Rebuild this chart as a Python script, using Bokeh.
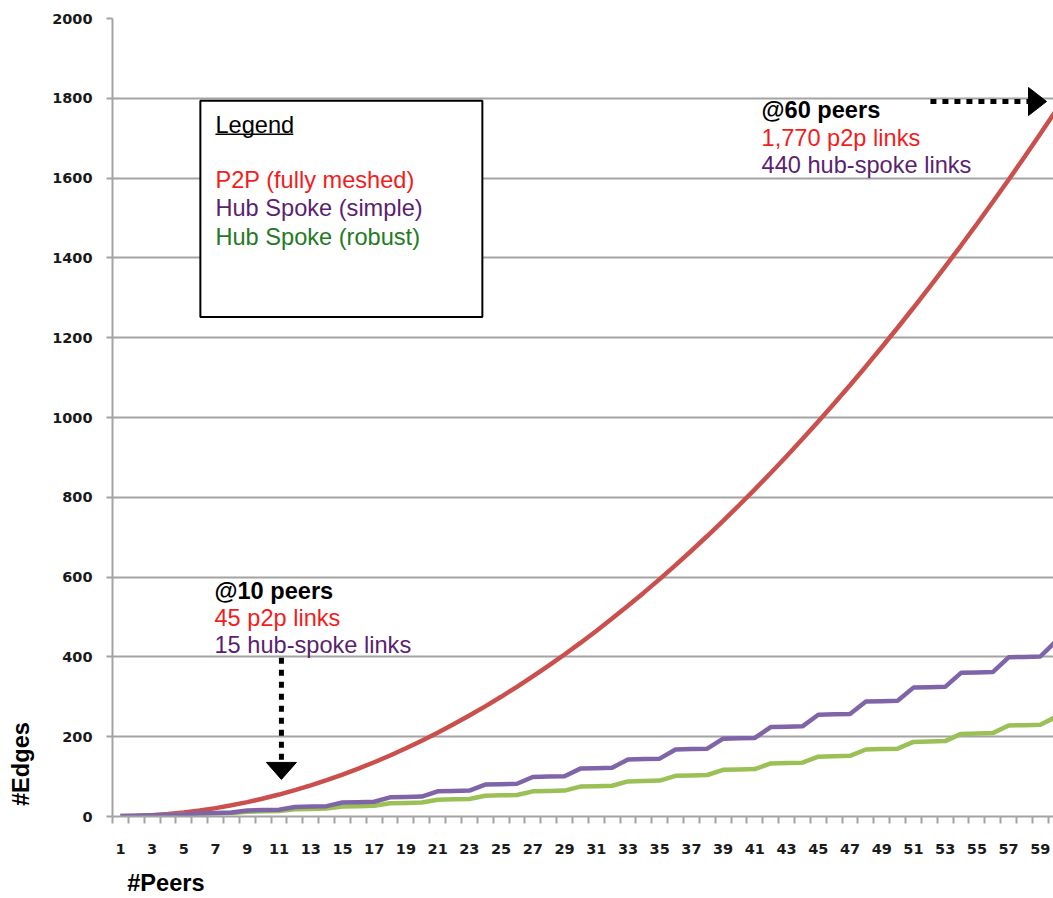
from bokeh.plotting import figure
from bokeh.models import Range1d, FixedTicker, Label, BoxAnnotation, Arrow, ColumnDataSource, LinearAxis
from bokeh.embed import file_html
from bokeh.resources import INLINE

# ---------------- data ----------------
peers = list(range(1, 61))
x_tick_values = list(range(1, 60, 2))
x_tick_labels = [str(v) for v in x_tick_values]
y_tick_values = list(range(0, 2001, 200))

p2p_links = [0, 1, 3, 6, 10, 15, 21, 28, 36, 45, 55, 66, 78, 91, 105, 120, 136, 153, 171, 190,
             210, 231, 253, 276, 300, 325, 351, 378, 406, 435, 465, 496, 528, 561, 595, 630, 666, 703, 741, 780,
             820, 861, 903, 946, 990, 1035, 1081, 1128, 1176, 1225, 1275, 1326, 1378, 1431, 1485, 1540, 1596, 1653, 1711, 1770]
hub_simple = [1, 2, 3, 4, 5, 8, 9, 10, 15, 16, 17, 24, 25, 26, 35, 36, 37, 48, 49, 50,
              63, 64, 65, 80, 81, 82, 99, 100, 101, 120, 121, 122, 143, 144, 145, 168, 169, 170, 195, 196,
              197, 224, 225, 226, 255, 256, 257, 288, 289, 290, 323, 324, 325, 360, 361, 362, 399, 400, 401, 440]
hub_robust = [1, 2, 3, 4, 5, 7, 8, 9, 12, 13, 14, 18, 19, 20, 25, 26, 27, 33, 34, 35,
              42, 43, 44, 52, 53, 54, 63, 64, 65, 75, 76, 77, 88, 89, 90, 102, 103, 104, 117, 118,
              119, 133, 134, 135, 150, 151, 152, 168, 169, 170, 187, 188, 189, 207, 208, 209, 228, 229, 230, 250]

x_title = "#Peers"
y_title = "#Edges"

# ---------------- styles ----------------
RED_LINE = "#c9504c"
PURPLE_LINE = "#8064a8"
GREEN_LINE = "#9bc156"
RED_TXT = "#f21d1d"
PURPLE_TXT = "#5b1f70"
GREEN_TXT = "#237a23"
GRID = "#a3a3a3"
TICK_TXT = "#1a1a1a"
FONT = "Liberation Sans"
TXT_SIZE = "23.6px"

source = ColumnDataSource(dict(peers=peers, p2p=p2p_links, simple=hub_simple, robust=hub_robust))

p = figure(width=1053, height=898, output_backend="svg", toolbar_location=None,
           x_range=Range1d(0.5, 59.83), y_range=Range1d(0, 2000),
           min_border_left=112, min_border_right=0, min_border_top=18, min_border_bottom=81)
p.outline_line_color = None
p.xgrid.visible = False
p.ygrid.grid_line_color = GRID
p.ygrid.grid_line_width = 2
p.ygrid.ticker = FixedTicker(ticks=y_tick_values)

# x axis
p.xaxis.ticker = FixedTicker(ticks=x_tick_values, minor_ticks=[v - 0.5 for v in peers] + [60.5])
p.xaxis.major_label_overrides = {v: l for v, l in zip(x_tick_values, x_tick_labels)}
p.xaxis.major_tick_out = 0
p.xaxis.major_tick_in = 0
p.xaxis.minor_tick_out = 7
p.xaxis.minor_tick_in = 0
p.xaxis.minor_tick_line_color = GRID
p.xaxis.minor_tick_line_width = 2
p.xaxis.axis_line_color = GRID
p.xaxis.axis_line_width = 2
p.xaxis.major_label_standoff = 20

# y axis
p.yaxis.ticker = FixedTicker(ticks=y_tick_values)
p.yaxis.major_tick_out = 6
p.yaxis.major_tick_in = 0
p.yaxis.minor_tick_out = 0
p.yaxis.minor_tick_in = 0
p.yaxis.major_tick_line_color = GRID
p.yaxis.major_tick_line_width = 2
p.yaxis.axis_line_color = GRID
p.yaxis.axis_line_width = 2
p.yaxis.major_label_standoff = 14

for ax in (p.xaxis, p.yaxis):
    ax.major_label_text_font = "DejaVu Sans"
    ax.major_label_text_font_style = "bold"
    ax.major_label_text_font_size = "14.5px"
    ax.major_label_text_color = TICK_TXT


# axis titles: extra tick-less axes carrying a single label at the start of each axis
def title_axis(pos, text, standoff, orientation="horizontal"):
    ax = LinearAxis(ticker=FixedTicker(ticks=[pos], minor_ticks=[]),
                    major_label_overrides={pos: text},
                    major_label_orientation=orientation,
                    major_label_standoff=standoff,
                    axis_line_color=None, major_tick_line_color=None, minor_tick_line_color=None,
                    major_tick_out=0, major_tick_in=0, minor_tick_out=0, minor_tick_in=0,
                    major_label_text_font=FONT, major_label_text_font_size=TXT_SIZE,
                    major_label_text_font_style="bold", major_label_text_color="black")
    return ax


p.add_layout(title_axis(3.87, x_title, 13), "below")
p.add_layout(title_axis(131.4, y_title, 15, "vertical"), "left")

# series
p.line("peers", "p2p", source=source, line_color=RED_LINE, line_width=4.5)
p.line("peers", "robust", source=source, line_color=GREEN_LINE, line_width=4.5)
p.line("peers", "simple", source=source, line_color=PURPLE_LINE, line_width=4.5)

# legend box
p.add_layout(BoxAnnotation(left=6.04, right=23.82, top=1794, bottom=1252,
                           fill_color="white", fill_alpha=1.0,
                           line_color="black", line_alpha=1.0, line_width=2))


def label(x, y, text, color, bold=False):
    p.add_layout(Label(x=x, y=y, text=text, text_color=color, text_font=FONT,
                       text_font_size=TXT_SIZE, text_font_style="bold" if bold else "normal",
                       text_baseline="middle", text_align="left"))


label(6.99, 1732, "Legend", "black")
p.add_layout(Arrow(x_start=6.99, y_start=1710, x_end=11.9, y_end=1710, start=None, end=None,
                   line_color="black", line_width=1.5))
label(6.99, 1595, "P2P (fully meshed)", RED_TXT)
label(6.99, 1524, "Hub Spoke (simple)", PURPLE_TXT)
label(6.99, 1452, "Hub Spoke (robust)", GREEN_TXT)

# @10 peers annotation
label(6.93, 566, "@10 peers", "black", bold=True)
label(6.93, 498, "45 p2p links", RED_TXT)
label(6.93, 431, "15 hub-spoke links", PURPLE_TXT)

# @60 peers annotation
label(41.42, 1770, "@60 peers", "black", bold=True)
label(41.42, 1700, "1,770 p2p links", RED_TXT)
label(41.42, 1632, "440 hub-spoke links", PURPLE_TXT)

# arrows (dotted body + triangular head)
X_PER_PX = 1 / 15.86
Y_PER_PX = 1 / 0.3995
down_x, down_top, down_tip = 11.15, 398, 93
head_len, head_half = 17, 15
p.add_layout(Arrow(x_start=down_x, y_start=down_top, x_end=down_x, y_end=down_tip + head_len * Y_PER_PX,
                   start=None, end=None, line_color="black", line_width=5, line_dash="6 6"))
p.patch([down_x - head_half * X_PER_PX, down_x + head_half * X_PER_PX, down_x],
        [down_tip + head_len * Y_PER_PX, down_tip + head_len * Y_PER_PX, down_tip],
        fill_color="black", line_color="black")

right_y, right_start, right_tip = 1792, 52.07, 59.39
p.add_layout(Arrow(x_start=right_start, y_start=right_y, x_end=right_tip - 18 * X_PER_PX, y_end=right_y,
                   start=None, end=None, line_color="black", line_width=5, line_dash="6 6"))
p.patch([right_tip - 18 * X_PER_PX, right_tip - 18 * X_PER_PX, right_tip],
        [right_y + 14 * Y_PER_PX, right_y - 14 * Y_PER_PX, right_y],
        fill_color="black", line_color="black")

open("out.html", "w").write(file_html(p, INLINE))
